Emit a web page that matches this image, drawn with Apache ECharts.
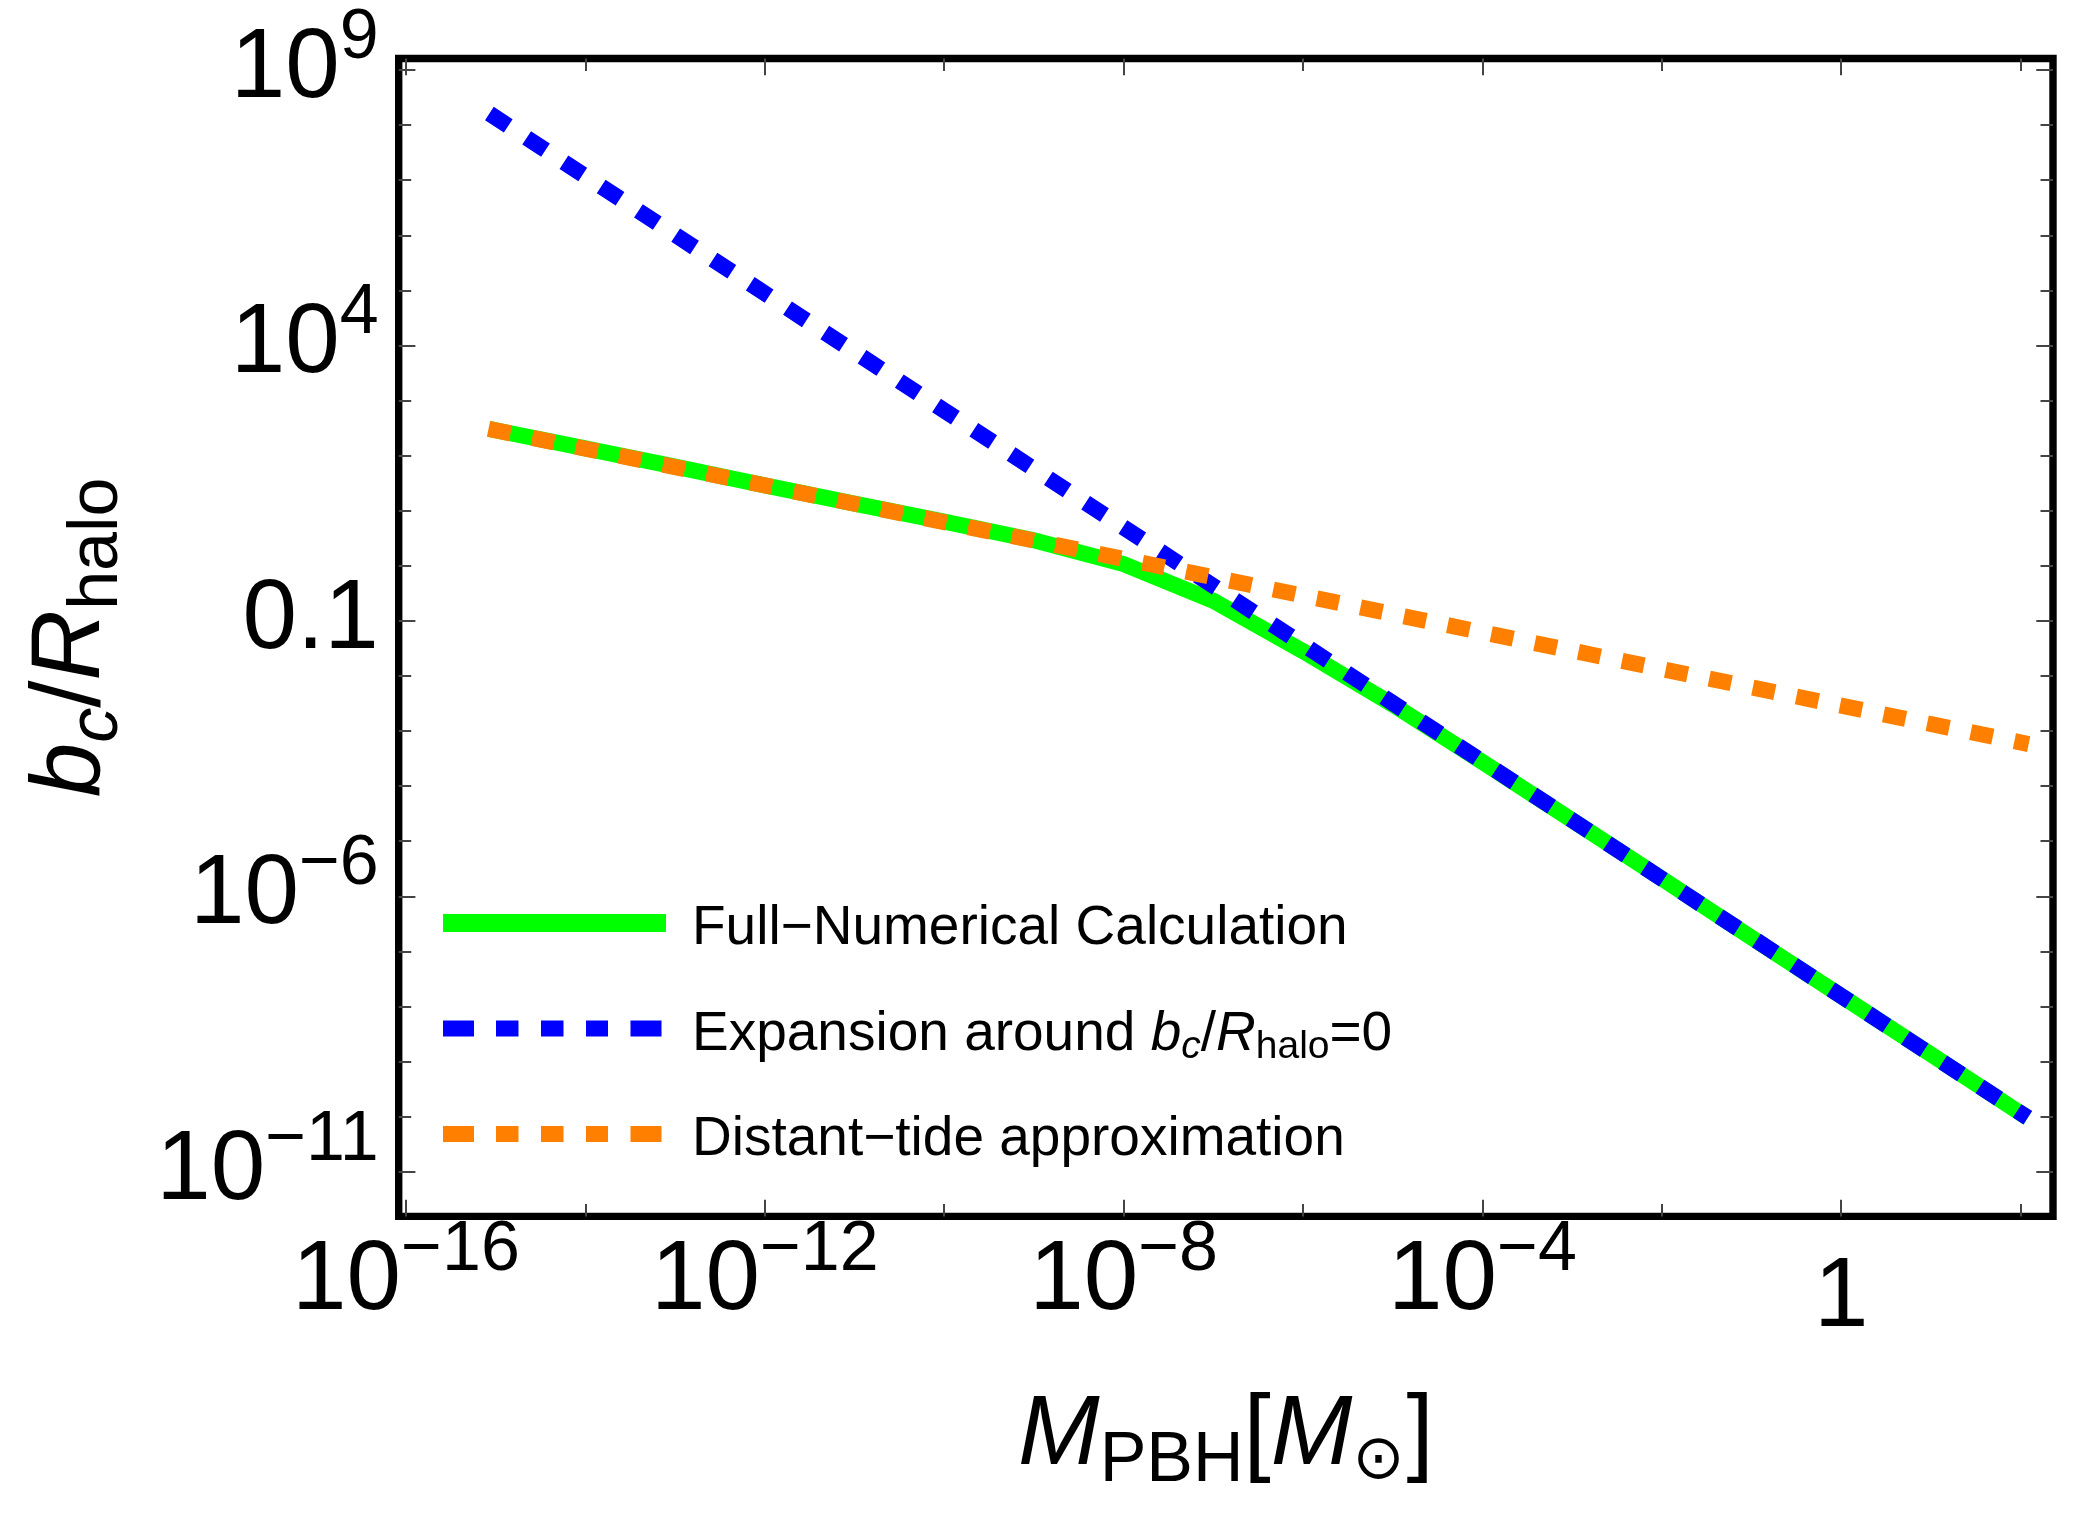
<!DOCTYPE html>
<html><head><meta charset="utf-8">
<script src="https://cdn.jsdelivr.net/npm/echarts@6/dist/echarts.min.js"></script>
<style>html,body{margin:0;padding:0;background:#fff}#c{width:2100px;height:1528px}</style>
</head><body><div id="c"></div>
<script>
// ---- data (log10 of M_PBH [M_sun] and log10 of b_c/R_halo) ----
const fullLogM = [-15.07, -15, -14, -13, -12, -11, -10, -9, -8, -7, -6, -5, -4, -3, -2, -1, 0, 1, 2, 2.08];
const fullLogB = [2.485, 2.46, 2.13, 1.80, 1.46, 1.13, 0.80, 0.465, 0.03, -0.635, -1.55, -2.52, -3.56, -4.62, -5.68, -6.75, -7.81, -8.87, -9.94, -10.02];
const expLogM  = [-15.07, -10, -5, 0, 2.08];
const expLogB  = [8.21, 2.82, -2.49, -7.81, -10.02];
const tideLogM = [-15.08, -10, -5, 0, 2.09];
const tideLogB = [2.485, 0.792, -0.875, -2.54, -3.236];

const seriesNames = ['Full\u2212Numerical Calculation', 'Expansion around b_c/R_halo=0', 'Distant\u2212tide approximation'];
const seriesColors = ['#00ff00', '#0000ff', '#ff8000'];

const xMajorTicks = [-16, -12, -8, -4, 0];
const xMinorTicks = [-14, -10, -6, -2, 2];
const yMajorTicks = [9, 4, -1, -6, -11];
const yMinorTicks = [8, 7, 6, 5, 3, 2, 1, 0, -2, -3, -4, -5, -7, -8, -9, -10];
const X_MIN = -16.081, X_MAX = 2.361;
const Y_MIN = -11.811, Y_MAX = 9.209;

const FONT = 'Liberation Sans, Arial, Helvetica, sans-serif';
const TICK_COLOR = '#444';

function zip(a, b) { return a.map((v, i) => [v, b[i]]); }
function supText(v) { return v < 0 ? '\u2212' + (-v) : String(v); }

const tickRich = {
  b: { fontSize: 98, lineHeight: 100, fontFamily: FONT, color: '#000' },
  s: { fontSize: 70, lineHeight: 70, fontFamily: FONT, color: '#000', padding: [0, 0, 63, 0] },
  one: { fontSize: 98, lineHeight: 133, fontFamily: FONT, color: '#000' }
};

function mkX(pos, ticks, len, withLabels) {
  const ax = {
    type: 'value', position: pos, min: X_MIN, max: X_MAX,
    axisLine: { show: false, onZero: false },
    splitLine: { show: false },
    axisTick: { show: true, inside: true, length: len, customValues: ticks, lineStyle: { color: TICK_COLOR, width: 2 } },
    axisLabel: { show: false }
  };
  if (withLabels) {
    ax.axisLabel = {
      show: true, customValues: ticks, margin: 16,
      formatter: v => v === 0 ? '{one|1}' : '{b|10}{s|' + supText(v) + '}',
      rich: tickRich
    };
    ax.name = '{i|M}{sub|PBH}{n|[}{i|M}{sun|\u2299}{n|]}';
    ax.nameLocation = 'middle';
    ax.nameGap = 170;
    ax.nameTextStyle = {
      rich: {
        i: { fontSize: 98, fontStyle: 'italic', fontFamily: FONT, color: '#000', lineHeight: 100 },
        n: { fontSize: 98, fontFamily: FONT, color: '#000', lineHeight: 100 },
        sub: { fontSize: 70, fontFamily: FONT, color: '#000', lineHeight: 70, padding: [50, 0, 0, 0] },
        sun: { fontSize: 62, fontFamily: 'DejaVu Sans, ' + FONT, color: '#000', lineHeight: 70, padding: [50, 2, 0, 0] }
      }
    };
  }
  return ax;
}

function mkY(pos, ticks, len, withLabels) {
  const ax = {
    type: 'value', position: pos, min: Y_MIN, max: Y_MAX,
    axisLine: { show: false, onZero: false },
    splitLine: { show: false },
    axisTick: { show: true, inside: true, length: len, customValues: ticks, lineStyle: { color: TICK_COLOR, width: 2 } },
    axisLabel: { show: false }
  };
  if (withLabels) {
    ax.axisLabel = {
      show: true, customValues: ticks, margin: 20,
      formatter: v => v === -1 ? '{b|0.1}' : '{b|10}{s|' + supText(v) + '}',
      rich: tickRich
    };
    ax.name = '{i|b}{is|c}{n|/}{i|R}{s|halo}';
    ax.nameLocation = 'middle';
    ax.nameRotate = 90;
    ax.nameGap = 277;
    ax.nameTextStyle = {
      rich: {
        i: { fontSize: 98, fontStyle: 'italic', fontFamily: FONT, color: '#000', lineHeight: 100 },
        n: { fontSize: 98, fontFamily: FONT, color: '#000', lineHeight: 100 },
        is: { fontSize: 70, fontStyle: 'italic', fontFamily: FONT, color: '#000', lineHeight: 70, padding: [52, 0, 0, 0] },
        s: { fontSize: 70, fontFamily: FONT, color: '#000', lineHeight: 70, padding: [52, 0, 0, 0] }
      }
    };
  }
  return ax;
}

const legendLabels = {};
legendLabels[seriesNames[0]] = 'Full\u2212Numerical Calculation';
legendLabels[seriesNames[1]] = 'Expansion around {li|b}{lis|c}/{li|R}{ls|halo}=0';
legendLabels[seriesNames[2]] = 'Distant\u2212tide approximation';

const DASH = [22.5, 22];
const LEGEND_DASH = [31, 22, 22.5, 22.5, 22.5, 22.5, 22, 22.5, 31, 60];

const chart = echarts.init(document.getElementById('c'), null, { renderer: 'canvas' });
chart.setOption({
  animation: false,
  backgroundColor: '#ffffff',
  grid: {
    left: 398.7, top: 58.5, right: 47, bottom: 311.6,
    show: true, borderColor: '#000', borderWidth: 7.4, backgroundColor: 'transparent',
    outerBoundsMode: 'none', containLabel: false
  },
  xAxis: [
    mkX('bottom', xMajorTicks, 16.7, true),
    mkX('bottom', xMinorTicks, 12.5, false),
    mkX('top', xMajorTicks, 16.7, false),
    mkX('top', xMinorTicks, 12.5, false)
  ],
  yAxis: [
    mkY('left', yMajorTicks, 16.7, true),
    mkY('left', yMinorTicks, 12.5, false),
    mkY('right', yMajorTicks, 16.7, false),
    mkY('right', yMinorTicks, 12.5, false)
  ],
  legend: {
    orient: 'vertical', left: 434, top: 884, padding: 0,
    itemWidth: 223, itemHeight: 66, itemGap: 27.5, selectedMode: false,
    itemStyle: { opacity: 0 },
    lineStyle: { width: 16 },
    textStyle: {
      fontSize: 55, fontFamily: FONT, color: '#000', lineHeight: 66, padding: [12, 0, 0, 21],
      rich: {
        li: { fontSize: 55, fontStyle: 'italic', fontFamily: FONT, color: '#000' },
        lis: { fontSize: 39, fontStyle: 'italic', fontFamily: FONT, color: '#000', lineHeight: 39, padding: [26, 0, 0, 0] },
        ls: { fontSize: 39, fontFamily: FONT, color: '#000', lineHeight: 39, padding: [26, 0, 0, 0] }
      }
    },
    formatter: name => legendLabels[name],
    data: [
      { name: seriesNames[0], lineStyle: { width: 18, type: 'solid', color: seriesColors[0] } },
      { name: seriesNames[1], lineStyle: { width: 16, type: LEGEND_DASH, color: seriesColors[1] } },
      { name: seriesNames[2], lineStyle: { width: 16, type: LEGEND_DASH, color: seriesColors[2] } }
    ]
  },
  series: [
    { name: seriesNames[0], type: 'line', xAxisIndex: 0, yAxisIndex: 0, data: zip(fullLogM, fullLogB),
      showSymbol: false, symbol: 'none', lineStyle: { color: seriesColors[0], width: 16, cap: 'butt', join: 'miter' }, itemStyle: { color: seriesColors[0] }, z: 2 },
    { name: seriesNames[1], type: 'line', xAxisIndex: 0, yAxisIndex: 0, data: zip(expLogM, expLogB),
      showSymbol: false, symbol: 'none', lineStyle: { color: seriesColors[1], width: 16, type: DASH, cap: 'butt' }, itemStyle: { color: seriesColors[1] }, z: 3 },
    { name: seriesNames[2], type: 'line', xAxisIndex: 0, yAxisIndex: 0, data: zip(tideLogM, tideLogB),
      showSymbol: false, symbol: 'none', lineStyle: { color: seriesColors[2], width: 16, type: DASH, cap: 'butt' }, itemStyle: { color: seriesColors[2] }, z: 4 }
  ]
});
</script>
</body></html>
